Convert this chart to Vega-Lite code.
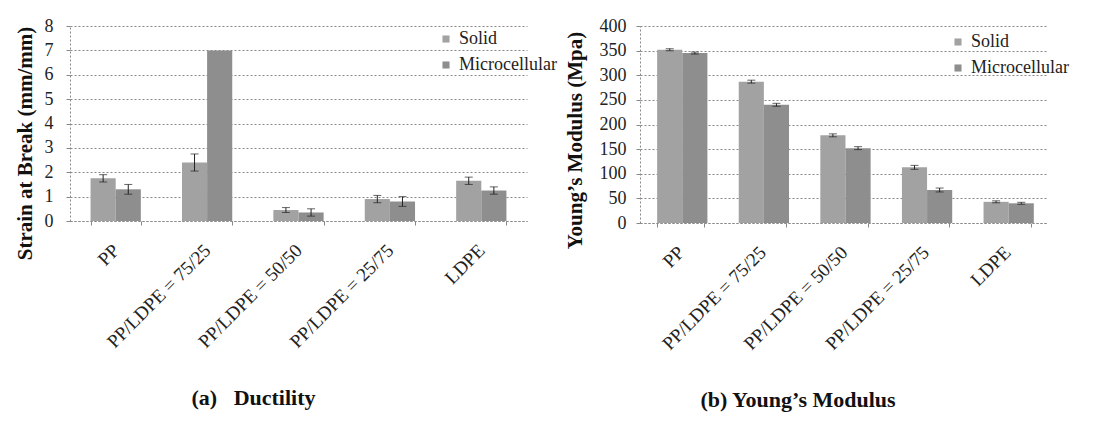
{
  "$schema": "https://vega.github.io/schema/vega-lite/v6.json",
  "background": "white",
  "padding": {"left": 13, "top": 17, "right": 5, "bottom": 5},
  "bounds": "flush",
  "spacing": 113,
  "datasets": {
    "strain": [
      {"material": "PP", "type": "Solid", "value": 1.75, "lo": 1.6, "hi": 1.9},
      {"material": "PP", "type": "Microcellular", "value": 1.3, "lo": 1.1, "hi": 1.5},
      {"material": "PP/LDPE = 75/25", "type": "Solid", "value": 2.4, "lo": 2.05, "hi": 2.75},
      {"material": "PP/LDPE = 75/25", "type": "Microcellular", "value": 7.0, "lo": null, "hi": null},
      {"material": "PP/LDPE = 50/50", "type": "Solid", "value": 0.45, "lo": 0.35, "hi": 0.55},
      {"material": "PP/LDPE = 50/50", "type": "Microcellular", "value": 0.35, "lo": 0.2, "hi": 0.5},
      {"material": "PP/LDPE = 25/75", "type": "Solid", "value": 0.9, "lo": 0.75, "hi": 1.05},
      {"material": "PP/LDPE = 25/75", "type": "Microcellular", "value": 0.8, "lo": 0.6, "hi": 1.0},
      {"material": "LDPE", "type": "Solid", "value": 1.65, "lo": 1.5, "hi": 1.8},
      {"material": "LDPE", "type": "Microcellular", "value": 1.25, "lo": 1.1, "hi": 1.4}
    ],
    "modulus": [
      {"material": "PP", "type": "Solid", "value": 352, "lo": 350, "hi": 354},
      {"material": "PP", "type": "Microcellular", "value": 345, "lo": 343, "hi": 347},
      {"material": "PP/LDPE = 75/25", "type": "Solid", "value": 287, "lo": 284, "hi": 290},
      {"material": "PP/LDPE = 75/25", "type": "Microcellular", "value": 240, "lo": 237, "hi": 243},
      {"material": "PP/LDPE = 50/50", "type": "Solid", "value": 178, "lo": 175, "hi": 181},
      {"material": "PP/LDPE = 50/50", "type": "Microcellular", "value": 152, "lo": 149, "hi": 155},
      {"material": "PP/LDPE = 25/75", "type": "Solid", "value": 113, "lo": 109, "hi": 117},
      {"material": "PP/LDPE = 25/75", "type": "Microcellular", "value": 67, "lo": 63, "hi": 71},
      {"material": "LDPE", "type": "Solid", "value": 43, "lo": 41, "hi": 45},
      {"material": "LDPE", "type": "Microcellular", "value": 40, "lo": 38, "hi": 42}
    ]
  },
  "resolve": {"scale": {"color": "independent"}, "legend": {"color": "independent"}},
  "hconcat": [
    {
      "width": 457,
      "height": 195,
      "data": {"name": "strain"},
      "title": {"text": "(a)\u00a0\u00a0\u00a0Ductility", "orient": "bottom", "frame": "group", "anchor": "middle", "offset": 37, "dx": -45},
      "encoding": {
        "x": {
          "field": "material", "type": "nominal",
          "sort": ["PP", "PP/LDPE = 75/25", "PP/LDPE = 50/50", "PP/LDPE = 25/75", "LDPE"],
          "scale": {"paddingInner": 0.45, "paddingOuter": 0.225},
          "axis": {"title": null, "labelAngle": -45, "labelAlign": "right", "labelBaseline": "middle", "labelFontSize": 19, "labelPadding": 22, "tickBand": "extent", "grid": false, "labelLimit": 400, "labelOverlap": false}
        },
        "xOffset": {"field": "type", "type": "nominal", "sort": ["Solid", "Microcellular"]}
      },
      "layer": [
        {
          "mark": {"type": "bar"},
          "encoding": {
            "y": {"field": "value", "type": "quantitative", "scale": {"domain": [0, 8]},
                  "axis": {"title": "Strain at Break (mm/mm)", "values": [0, 1, 2, 3, 4, 5, 6, 7, 8], "labelOverlap": false, "labelPadding": 13, "titlePadding": 9, "titleY": 117}},
            "color": {"field": "type", "type": "nominal",
                      "scale": {"domain": ["Solid", "Microcellular"], "range": ["#a2a2a2", "#8e8e8e"]},
                      "legend": {"title": null, "orient": "none", "legendX": 367, "legendY": 4, "labelFont": "Liberation Serif", "labelFontSize": 18}}
          }
        },
        {
          "mark": {"type": "rule", "color": "#222", "strokeWidth": 1},
          "encoding": {"y": {"field": "lo", "type": "quantitative", "axis": {"title": "Strain at Break (mm/mm)", "values": [0, 1, 2, 3, 4, 5, 6, 7, 8], "labelOverlap": false, "labelPadding": 13, "titlePadding": 9, "titleY": 117}}, "y2": {"field": "hi"}}
        },
        {
          "mark": {"type": "tick", "color": "#222", "thickness": 1, "size": 8},
          "encoding": {"y": {"field": "lo", "type": "quantitative", "axis": {"title": "Strain at Break (mm/mm)", "values": [0, 1, 2, 3, 4, 5, 6, 7, 8], "labelOverlap": false, "labelPadding": 13, "titlePadding": 9, "titleY": 117}}}
        },
        {
          "mark": {"type": "tick", "color": "#222", "thickness": 1, "size": 8},
          "encoding": {"y": {"field": "hi", "type": "quantitative", "axis": {"title": "Strain at Break (mm/mm)", "values": [0, 1, 2, 3, 4, 5, 6, 7, 8], "labelOverlap": false, "labelPadding": 13, "titlePadding": 9, "titleY": 117}}}
        }
      ]
    },
    {
      "width": 408,
      "height": 197,
      "data": {"name": "modulus"},
      "title": {"text": "(b) Young’s Modulus", "orient": "bottom", "frame": "group", "anchor": "middle", "offset": 37, "dx": -46},
      "encoding": {
        "x": {
          "field": "material", "type": "nominal",
          "sort": ["PP", "PP/LDPE = 75/25", "PP/LDPE = 50/50", "PP/LDPE = 25/75", "LDPE"],
          "scale": {"paddingInner": 0.42, "paddingOuter": 0.21},
          "axis": {"title": null, "labelAngle": -45, "labelAlign": "right", "labelBaseline": "middle", "labelFontSize": 19, "labelPadding": 22, "tickBand": "extent", "grid": false, "labelLimit": 400, "labelOverlap": false}
        },
        "xOffset": {"field": "type", "type": "nominal", "sort": ["Solid", "Microcellular"]}
      },
      "layer": [
        {
          "mark": {"type": "bar"},
          "encoding": {
            "y": {"field": "value", "type": "quantitative", "scale": {"domain": [0, 400]},
                  "axis": {"title": "Young’s Modulus (Mpa)", "values": [0, 50, 100, 150, 200, 250, 300, 350, 400], "labelOverlap": false, "labelPadding": 10, "titlePadding": 14, "titleY": 114}},
            "color": {"field": "type", "type": "nominal",
                      "scale": {"domain": ["Solid", "Microcellular"], "range": ["#a2a2a2", "#8e8e8e"]},
                      "legend": {"title": null, "orient": "none", "legendX": 309, "legendY": 7, "labelFont": "Liberation Serif", "labelFontSize": 18}}
          }
        },
        {
          "mark": {"type": "rule", "color": "#222", "strokeWidth": 1},
          "encoding": {"y": {"field": "lo", "type": "quantitative", "axis": {"title": "Young’s Modulus (Mpa)", "values": [0, 50, 100, 150, 200, 250, 300, 350, 400], "labelOverlap": false, "labelPadding": 10, "titlePadding": 14, "titleY": 114}}, "y2": {"field": "hi"}}
        },
        {
          "mark": {"type": "tick", "color": "#222", "thickness": 1, "size": 8},
          "encoding": {"y": {"field": "lo", "type": "quantitative", "axis": {"title": "Young’s Modulus (Mpa)", "values": [0, 50, 100, 150, 200, 250, 300, 350, 400], "labelOverlap": false, "labelPadding": 10, "titlePadding": 14, "titleY": 114}}}
        },
        {
          "mark": {"type": "tick", "color": "#222", "thickness": 1, "size": 8},
          "encoding": {"y": {"field": "hi", "type": "quantitative", "axis": {"title": "Young’s Modulus (Mpa)", "values": [0, 50, 100, 150, 200, 250, 300, 350, 400], "labelOverlap": false, "labelPadding": 10, "titlePadding": 14, "titleY": 114}}}
        }
      ]
    }
  ],
  "config": {
    "font": "Liberation Serif",
    "view": {"stroke": null},
    "axis": {
      "labelFont": "Liberation Serif", "labelFontSize": 18, "labelColor": "#222",
      "titleFont": "Liberation Serif", "titleFontSize": 21, "titleFontWeight": "bold", "titleColor": "#111",
      "gridColor": "#888", "gridDash": [2, 2], "gridOpacity": 1,
      "domainColor": "#888", "domainDash": [2, 2],
      "tickColor": "#888", "tickSize": 4
    },
    "legend": {
      "symbolType": "square", "symbolSize": 50, "symbolStrokeWidth": 0,
      "labelFont": "Liberation Serif", "labelFontSize": 18, "labelColor": "#222",
      "rowPadding": 8, "labelOffset": 4
    },
    "title": {"font": "Liberation Serif", "fontSize": 22, "fontWeight": "bold", "color": "#111"}
  }
}
